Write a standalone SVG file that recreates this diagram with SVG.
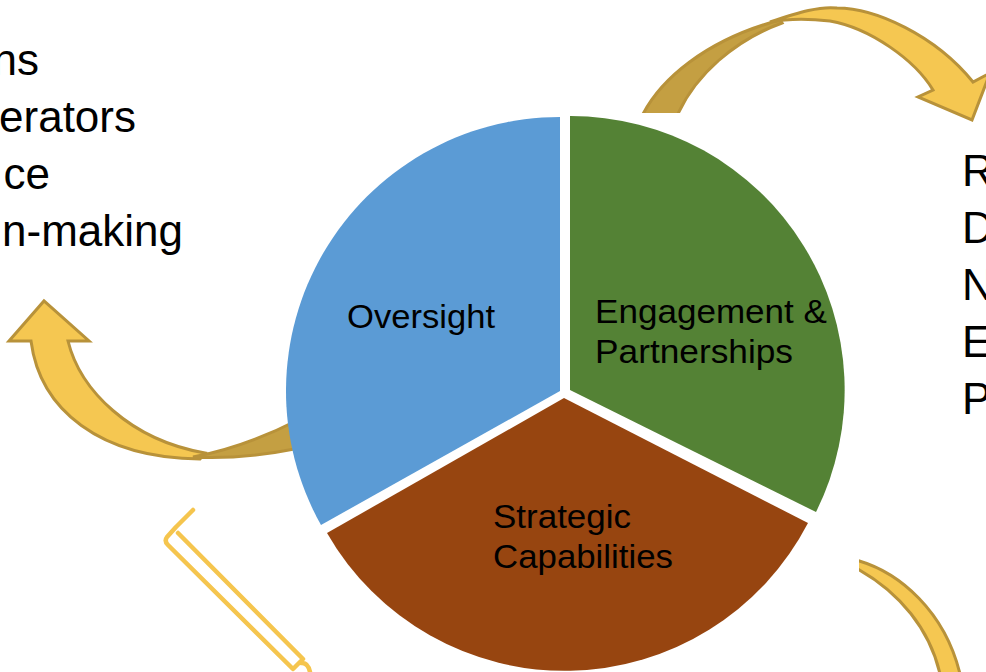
<svg xmlns="http://www.w3.org/2000/svg" width="986" height="672" viewBox="0 0 986 672">
<style>
.arw{fill:#F5C751;stroke:#B8923A;stroke-width:3;stroke-linejoin:miter}
.arwd{fill:#C49F42;stroke:#B8923A;stroke-width:3;stroke-linejoin:miter}
.outl{fill:none;stroke:#F5C54E;stroke-width:4.5;stroke-linejoin:round;stroke-linecap:round}
.lbl{font-family:"Liberation Sans",Arial,sans-serif;font-size:33px;fill:#000}
.big{font-family:"Liberation Sans",Arial,sans-serif;font-size:44px;fill:#000}
</style>
<defs>
<clipPath id="clipTop"><rect x="0" y="0" width="986" height="113"/></clipPath>
<clipPath id="clipBR"><rect x="859" y="0" width="127" height="672"/></clipPath>
</defs>
<rect width="986" height="672" fill="#fff"/>
<g id="connectors">
  <g id="arrow-top">
    <path class="arwd" clip-path="url(#clipTop)" d="M642,116 C660,80 705,40 780,20 L782,23 C735,40 695,75 677,116 Z"/>
    <path class="arw" d="M770,22 C800,12 820,6 837,8 C875,8 935,35 973,82 L990,73 L972,120 L918,97 L933,90 C915,60 870,28 830,21 C805,18 785,19 770,22 Z"/>
  </g>
  <g id="arrow-left">
    <path class="arw" d="M31,341 L9,341 L44,301 L89,341 L68,341 C80,390 130,440 205,453 L200,459 C100,458 40,410 31,341 Z"/>
    <path class="arwd" d="M193,457 C230,450 265,437 300,419 L300,448 C265,455 228,459 193,457 Z"/>
  </g>
  <g id="arrow-bottom-right" clip-path="url(#clipBR)">
    <path class="arw" d="M856,560 C900,572 945,612 960,674 L940,674 C930,630 900,592 856,568 Z"/>
  </g>
  <g id="arrow-bottom-left">
    <path class="outl" d="M193,510 L176,527 L167,537 Q164,541 168,545 L293,669 L303,659 L178,533"/>
    <path class="outl" d="M301,663 Q308,662 310,672"/>
  </g>
</g>
<g id="node-oversight">
  <path d="M560,391 L560,117 A274,274 0 0 0 321,525 Z" fill="#5B9BD5"/>
  <text class="lbl" x="347" y="328" textLength="148" lengthAdjust="spacingAndGlyphs">Oversight</text>
</g>
<g id="node-engagement">
  <path d="M570,390 L570,116 A274,274 0 0 1 816,512 Z" fill="#548235"/>
  <text class="lbl" x="595" y="323" textLength="232" lengthAdjust="spacingAndGlyphs">Engagement &amp;</text>
  <text class="lbl" x="595" y="363" textLength="198" lengthAdjust="spacingAndGlyphs">Partnerships</text>
</g>
<g id="node-strategic">
  <path d="M564,398 L808,523 A274,274 0 0 1 327,533 Z" fill="#974510"/>
  <text class="lbl" x="493" y="528" textLength="138" lengthAdjust="spacingAndGlyphs">Strategic</text>
  <text class="lbl" x="493" y="568" textLength="180" lengthAdjust="spacingAndGlyphs">Capabilities</text>
</g>
<g id="node-left-text">
  <text class="big" x="39" y="75" text-anchor="end">ns</text>
  <text class="big" x="136" y="132" text-anchor="end">erators</text>
  <text class="big" x="50" y="189" text-anchor="end">ce</text>
  <text class="big" x="183" y="246" text-anchor="end">n-making</text>
</g>
<g id="node-right-text">
  <text class="big" x="962" y="186">R</text>
  <text class="big" x="962" y="243">D</text>
  <text class="big" x="962" y="300">N</text>
  <text class="big" x="962" y="357">E</text>
  <text class="big" x="962" y="414">P</text>
</g>
</svg>
